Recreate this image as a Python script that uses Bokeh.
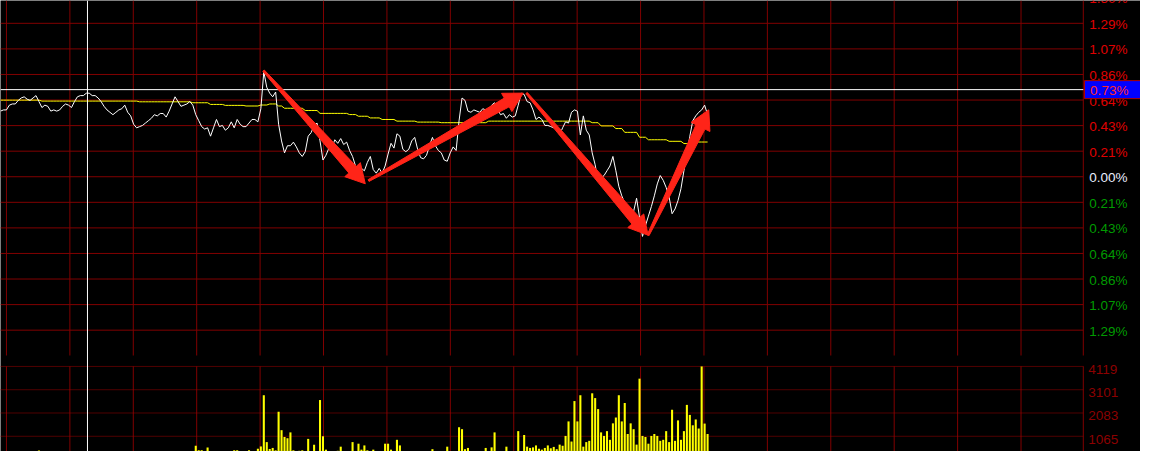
import math
from bokeh.plotting import figure
from bokeh.models import Range1d, ColumnDataSource
from bokeh.core.properties import value
from bokeh.embed import file_html
from bokeh.resources import INLINE

# ---------------- data (minute index 0..239) ----------------
price_pct = [
    0.55, 0.56, 0.56, 0.60, 0.61, 0.61, 0.64, 0.66, 0.67, 0.65,
    0.64, 0.66, 0.68, 0.63, 0.58, 0.60, 0.59, 0.55, 0.56, 0.55,
    0.56, 0.59, 0.61, 0.60, 0.58, 0.63, 0.67, 0.68, 0.68, 0.70,
    0.70, 0.68, 0.68, 0.66, 0.63, 0.59, 0.56, 0.54, 0.52, 0.54,
    0.56, 0.57, 0.60, 0.54, 0.51, 0.44, 0.41, 0.42, 0.43, 0.45,
    0.47, 0.49, 0.52, 0.51, 0.53, 0.53, 0.50, 0.55, 0.61, 0.67,
    0.63, 0.59, 0.60, 0.61, 0.63, 0.60, 0.52, 0.47, 0.42, 0.40,
    0.41, 0.34, 0.41, 0.48, 0.42, 0.43, 0.39, 0.41, 0.46, 0.41,
    0.48, 0.44, 0.42, 0.42, 0.45, 0.48, 0.48, 0.46, 0.57, 0.88,
    0.75, 0.70, 0.67, 0.71, 0.44, 0.30, 0.20, 0.26, 0.26, 0.29,
    0.25, 0.20, 0.17, 0.21, 0.34, 0.37, 0.43, 0.45, 0.30, 0.14,
    0.18, 0.24, 0.24, 0.31, 0.28, 0.32, 0.27, 0.29, 0.22, 0.17,
    0.09, 0.07, 0.07, 0.05, 0.12, 0.17, 0.06, 0.03, 0.07, 0.03,
    0.09, 0.19, 0.28, 0.24, 0.36, 0.34, 0.23, 0.21, 0.23, 0.30,
    0.33, 0.23, 0.16, 0.15, 0.18, 0.26, 0.33, 0.26, 0.22, 0.20,
    0.14, 0.13, 0.20, 0.25, 0.22, 0.47, 0.66, 0.64, 0.55, 0.54,
    0.56, 0.55, 0.54, 0.57, 0.56, 0.55, 0.60, 0.62, 0.57, 0.52,
    0.53, 0.49, 0.52, 0.50, 0.51, 0.60, 0.70, 0.69, 0.63, 0.62,
    0.56, 0.48, 0.50, 0.48, 0.43, 0.43, 0.42, 0.41, 0.41, 0.35,
    0.41, 0.46, 0.45, 0.54, 0.56, 0.55, 0.35, 0.51, 0.39, 0.35,
    0.20, 0.10, -0.04, -0.01, 0.01, 0.05, 0.09, 0.17, 0.05, -0.08,
    -0.16, -0.22, -0.26, -0.37, -0.29, -0.18, -0.34, -0.50, -0.41, -0.33,
    -0.25, -0.16, -0.06, 0.01, -0.03, -0.09, -0.17, -0.31, -0.27, -0.20,
    -0.10, 0.05, 0.19, 0.34, 0.47, 0.51, 0.54, 0.56, 0.60, 0.52,
]

avg_pct = [
    0.642, 0.642, 0.642, 0.642, 0.642, 0.642, 0.642, 0.642, 0.642, 0.642,
    0.642, 0.642, 0.642, 0.642, 0.634, 0.634, 0.634, 0.634, 0.634, 0.634,
    0.634, 0.634, 0.634, 0.634, 0.634, 0.634, 0.634, 0.634, 0.634, 0.634,
    0.634, 0.634, 0.634, 0.634, 0.634, 0.634, 0.634, 0.634, 0.634, 0.634,
    0.634, 0.634, 0.634, 0.634, 0.634, 0.634, 0.634, 0.628, 0.628, 0.628,
    0.628, 0.628, 0.628, 0.628, 0.628, 0.628, 0.628, 0.628, 0.628, 0.628,
    0.628, 0.628, 0.628, 0.628, 0.628, 0.620, 0.620, 0.620, 0.620, 0.620,
    0.620, 0.606, 0.606, 0.606, 0.606, 0.606, 0.598, 0.598, 0.598, 0.598,
    0.598, 0.598, 0.598, 0.593, 0.593, 0.593, 0.593, 0.593, 0.601, 0.601,
    0.601, 0.610, 0.610, 0.610, 0.593, 0.593, 0.574, 0.574, 0.574, 0.574,
    0.574, 0.574, 0.574, 0.555, 0.555, 0.555, 0.555, 0.555, 0.531, 0.531,
    0.531, 0.531, 0.531, 0.531, 0.531, 0.531, 0.531, 0.531, 0.521, 0.521,
    0.521, 0.507, 0.507, 0.507, 0.507, 0.493, 0.493, 0.493, 0.493, 0.480,
    0.480, 0.480, 0.480, 0.480, 0.466, 0.466, 0.466, 0.466, 0.466, 0.466,
    0.466, 0.458, 0.458, 0.458, 0.458, 0.458, 0.458, 0.458, 0.458, 0.453,
    0.453, 0.453, 0.453, 0.453, 0.453, 0.453, 0.453, 0.453, 0.453, 0.453,
    0.453, 0.453, 0.453, 0.453, 0.453, 0.466, 0.466, 0.466, 0.466, 0.466,
    0.466, 0.466, 0.466, 0.466, 0.466, 0.466, 0.466, 0.466, 0.466, 0.466,
    0.466, 0.466, 0.466, 0.466, 0.466, 0.466, 0.466, 0.466, 0.466, 0.466,
    0.466, 0.466, 0.466, 0.466, 0.466, 0.466, 0.466, 0.466, 0.466, 0.466,
    0.453, 0.453, 0.453, 0.426, 0.426, 0.426, 0.426, 0.426, 0.404, 0.404,
    0.404, 0.372, 0.372, 0.372, 0.372, 0.372, 0.331, 0.331, 0.331, 0.310,
    0.310, 0.310, 0.310, 0.310, 0.310, 0.310, 0.297, 0.297, 0.297, 0.297,
    0.297, 0.278, 0.278, 0.278, 0.278, 0.291, 0.291, 0.291, 0.291, 0.291,
]

volume = [
    250, 250, 250, 250, 250, 250, 250, 250, 250, 250,
    250, 250, 250, 440, 250, 250, 250, 250, 250, 250,
    250, 250, 250, 250, 250, 250, 250, 250, 250, 250,
    250, 250, 250, 250, 250, 250, 250, 250, 250, 250,
    250, 250, 250, 250, 250, 250, 250, 250, 250, 250,
    250, 250, 250, 250, 250, 250, 250, 250, 250, 250,
    250, 250, 250, 250, 250, 250, 650, 450, 450, 250,
    570, 250, 250, 250, 250, 250, 250, 250, 250, 450,
    450, 250, 250, 250, 450, 250, 250, 520, 620, 2860,
    810, 510, 555, 450, 2138, 1332, 1035, 980, 1235, 450,
    250, 430, 450, 250, 950, 250, 695, 250, 2650, 1065,
    480, 420, 250, 420, 430, 610, 250, 250, 250, 810,
    250, 740, 480, 665, 450, 250, 480, 250, 250, 250,
    740, 740, 480, 250, 910, 665, 420, 420, 420, 420,
    420, 420, 420, 250, 250, 250, 500, 250, 250, 250,
    250, 610, 250, 250, 250, 1460, 1375, 500, 555, 250,
    250, 250, 250, 250, 555, 250, 580, 1235, 250, 250,
    250, 610, 250, 250, 250, 1290, 250, 1120, 610, 555,
    580, 665, 520, 480, 555, 665, 540, 600, 500, 700,
    650, 1080, 1715, 835, 2605, 1715, 2860, 610, 810, 865,
    2945, 2735, 2254, 1235, 1080, 1290, 910, 1630, 1885, 2860,
    1715, 2520, 1165, 1630, 1375, 700, 3585, 1080, 1035, 740,
    1080, 1165, 1080, 865, 910, 1290, 810, 2225, 865, 1760,
    910, 1290, 2438, 2000, 1545, 1800, 1404, 4119, 1620, 1165,
]

pct_tick_values = [1.5, 1.2857, 1.0714, 0.8571, 0.6429, 0.4286, 0.2143, 0.0,
                   -0.2143, -0.4286, -0.6429, -0.8571, -1.0714, -1.2857]
pct_tick_labels = ["1.50%", "1.29%", "1.07%", "0.86%", "0.64%", "0.43%", "0.21%", "0.00%",
                   "0.21%", "0.43%", "0.64%", "0.86%", "1.07%", "1.29%"]
vol_tick_values = [4119, 3101, 2083, 1065]
vol_tick_labels = ["4119", "3101", "2083", "1065"]

cursor_minute = 29.4
cursor_pct = 0.73
cursor_label = "0.73%"

# trend arrows: (start minute, start pct) -> (end minute, end pct)
arrow_starts = [(88.9, 0.889), (124.4, -0.032), (177.8, 0.701), (218.9, -0.490)]
arrow_ends = [(123.3, -0.059), (176.7, 0.701), (218.9, -0.490), (239.4, 0.561)]

# ---------------- layout / style ----------------
W = 1140
H = 451
H_MAIN = 355          # px used by the price panel (top)
H_VOL = H - H_MAIN    # px used by the volume panel (bottom)
X0, X1 = 0.0, 385.33
Y_LO, Y_HI = -1.498, 1.477          # visible price panel range
V_LO, V_HI = 399, 4598              # visible volume panel range
AXIS_X = 366.0
LABEL_X = 368.0
GRID_X0, GRID_DX = 2.017, 21.433
GRID_COLOR = "#800000"
FONT = value("Liberation Sans")
FS = "13.5px"

ky = H_MAIN / (Y_HI - Y_LO)
kv = H_VOL / (V_HI - V_LO)
main_range = Range1d(Y_LO - H_VOL / ky, Y_HI)
vol_range = Range1d(V_LO, V_LO + H / kv)

minutes = list(range(len(price_pct)))

p = figure(width=W, height=H, x_range=Range1d(X0, X1), y_range=main_range,
           output_backend="svg", toolbar_location=None,
           x_axis_location=None, y_axis_location=None,
           min_border=0, min_border_left=0, min_border_right=0,
           min_border_top=0, min_border_bottom=0)
p.extra_y_ranges = {"vol": vol_range}
p.background_fill_color = "black"
p.border_fill_color = "black"
p.outline_line_color = None
p.grid.visible = False

grid_xs = [GRID_X0 + GRID_DX * k for k in range(17)]
n = len(grid_xs)

# ---- price panel grid
p.segment(x0=grid_xs, x1=grid_xs, y0=[Y_LO] * n, y1=[Y_HI] * n,
          line_color=GRID_COLOR, line_width=1)
hy = [v for v in pct_tick_values if Y_LO <= v <= Y_HI]
p.segment(x0=[X0] * len(hy), x1=[AXIS_X] * len(hy), y0=hy, y1=hy,
          line_color=GRID_COLOR, line_width=1)
p.segment(x0=[AXIS_X], x1=[AXIS_X], y0=[Y_LO], y1=[Y_HI], line_color=GRID_COLOR, line_width=1)

# ---- volume panel grid
vtop = max(vol_tick_values)
p.segment(x0=grid_xs, x1=grid_xs, y0=[V_LO] * n, y1=[vtop] * n,
          line_color=GRID_COLOR, line_width=1, y_range_name="vol")
p.segment(x0=[X0] * len(vol_tick_values), x1=[AXIS_X] * len(vol_tick_values),
          y0=vol_tick_values, y1=vol_tick_values, line_color="#a00000", line_width=1,
          line_dash="1 1", y_range_name="vol")
p.segment(x0=[AXIS_X], x1=[AXIS_X], y0=[V_LO], y1=[vtop], line_color=GRID_COLOR,
          line_width=1, y_range_name="vol")

# ---- series
p.vbar(x=minutes, top=volume, bottom=0, width=0.7, fill_color="#ffff00", line_color=None,
       y_range_name="vol")
p.line(minutes, avg_pct, line_color="#ffff00", line_width=1)
p.line(minutes, price_pct, line_color="white", line_width=1)

# ---- crosshair
p.segment(x0=[X0], x1=[AXIS_X], y0=[cursor_pct], y1=[cursor_pct], line_color="white", line_width=1)
p.segment(x0=[cursor_minute], x1=[cursor_minute], y0=[main_range.start], y1=[Y_HI],
          line_color="white", line_width=1)

# ---- arrows (tapered polygons, sized in screen pixels)
kx = W / (X1 - X0)
xs_list, ys_list = [], []
for (ax, ay), (bx, by) in zip(arrow_starts, arrow_ends):
    Ax, Ay, Bx, By = ax * kx, ay * ky, bx * kx, by * ky
    L = math.hypot(Bx - Ax, By - Ay)
    ux, uy = (Bx - Ax) / L, (By - Ay) / L
    nx, ny = -uy, ux
    head_len, head_w, shaft_w, tail_w = 19.0, 10.5, 5.0, 1.0
    cx, cy = Bx - ux * head_len, By - uy * head_len
    pts = [(Ax + nx * tail_w, Ay + ny * tail_w),
           (cx + nx * shaft_w, cy + ny * shaft_w),
           (cx + nx * head_w, cy + ny * head_w),
           (Bx, By),
           (cx - nx * head_w, cy - ny * head_w),
           (cx - nx * shaft_w, cy - ny * shaft_w),
           (Ax - nx * tail_w, Ay - ny * tail_w)]
    xs_list.append([q[0] / kx for q in pts])
    ys_list.append([q[1] / ky for q in pts])
p.patches(xs_list, ys_list, fill_color="#ff2418", line_color="#ff2418", line_width=1)

# ---- right-side labels (price panel)
lab_colors = ["#e00000" if v > 0.001 else ("#e8eeff" if abs(v) < 0.001 else "#009a00")
              for v in pct_tick_values]
lab_src = ColumnDataSource(dict(x=[LABEL_X] * len(pct_tick_values), y=pct_tick_values,
                                t=pct_tick_labels, c=lab_colors))
p.text(x="x", y="y", text="t", text_color="c", source=lab_src, text_font=FONT,
       text_font_size=FS, text_align="left", text_baseline="middle", y_offset=1)

# ---- cursor value box
half_h = 9.0 / ky
p.quad(left=[AXIS_X + 0.4], right=[X1], bottom=[cursor_pct - half_h], top=[cursor_pct + half_h],
       fill_color="#0000ff", line_color="#b00000", line_width=1)
p.text(x=[LABEL_X + 0.3], y=[cursor_pct], text=[cursor_label], text_color="#ff2a2a",
       text_font=FONT, text_font_size=FS, text_align="left", text_baseline="middle", y_offset=1)

# ---- volume labels
p.text(x=[LABEL_X - 0.3] * len(vol_tick_values), y=vol_tick_values, text=vol_tick_labels,
       text_color="#8c0000", text_font=FONT, text_font_size=FS, text_align="left",
       text_baseline="middle", y_offset=3, y_range_name="vol")

open("out.html", "w").write(file_html(p, INLINE))
